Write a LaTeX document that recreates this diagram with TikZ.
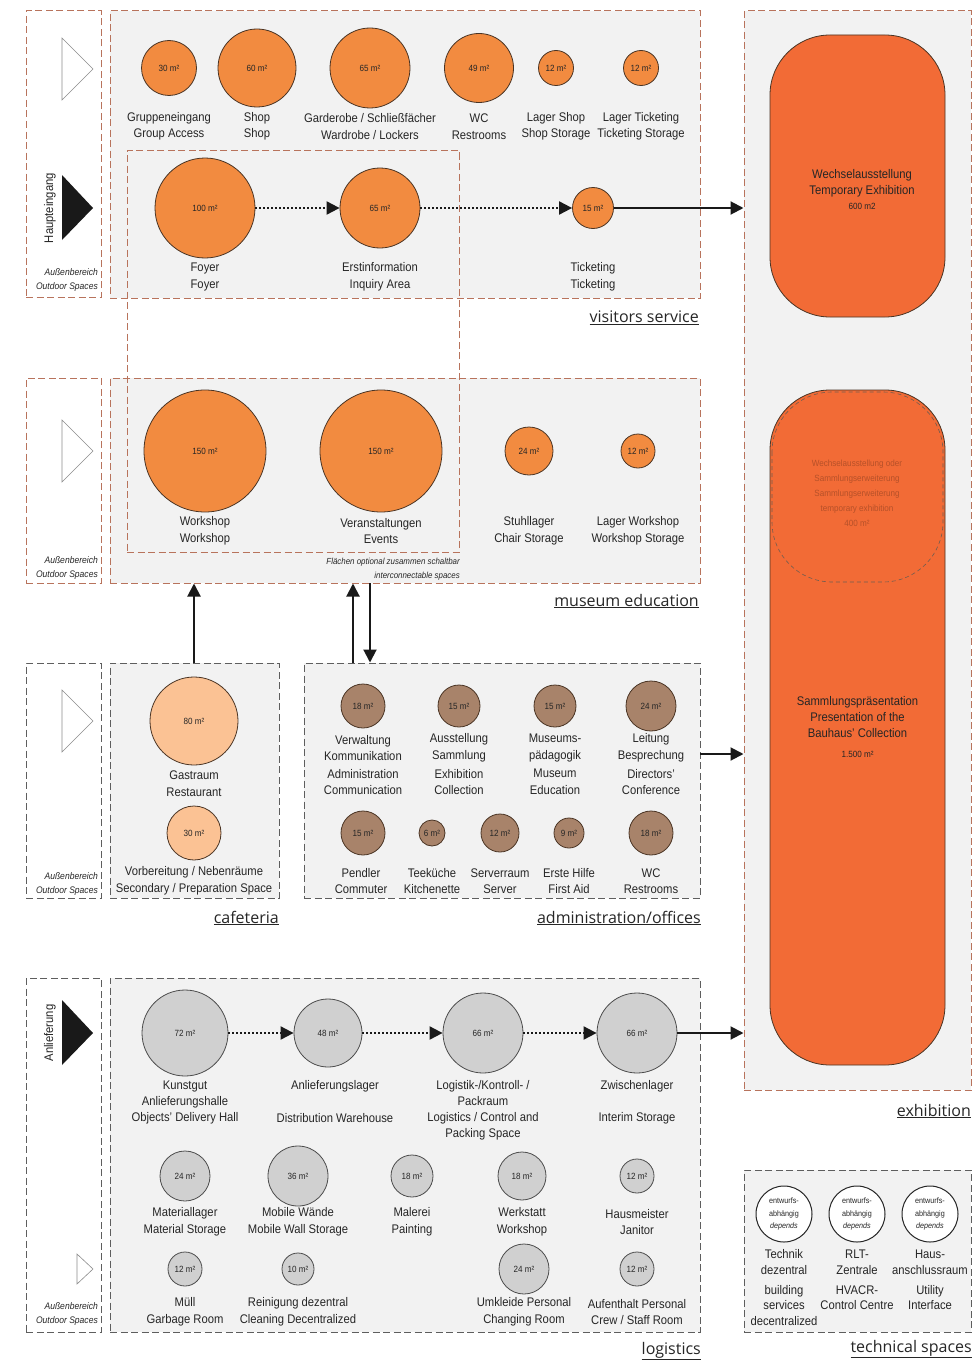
\documentclass[tikz,border=0pt]{standalone}
\usepackage{fontspec}
\setmainfont{Liberation Sans}[FakeStretch=0.9]
\newfontfamily\headfont{Open Sans}
\usetikzlibrary{arrows.meta,fit}
\definecolor{orng}{HTML}{F28B40}
\definecolor{exorng}{HTML}{F26B36}
\definecolor{lorng}{HTML}{FBC294}
\definecolor{brwn}{HTML}{A8836A}
\definecolor{lgrey}{HTML}{D0D0D0}
\definecolor{boxfill}{HTML}{F2F2F2}
\definecolor{reddash}{HTML}{B8735C}
\definecolor{greydash}{HTML}{5E5E5E}
\definecolor{circline}{HTML}{4A3424}
\definecolor{txt}{HTML}{262626}
\newcommand{\sqmx}[1]{#1 m²}
\begin{document}
\begin{tikzpicture}[x=1pt,y=-1pt,
  redbox/.style={draw=reddash, line width=1pt, dash pattern=on 7pt off 3.5pt, inner sep=0pt, fill=boxfill},
  redout/.style={redbox, fill=white},
  greybox/.style={draw=greydash, line width=1pt, dash pattern=on 7pt off 3.5pt, inner sep=0pt, fill=boxfill},
  greyout/.style={greybox, fill=white},
  circ/.style={circle, draw=circline, line width=0.8pt, inner sep=0pt, text=txt, font=\fontsize{9}{10}\selectfont},
  oc/.style={circ, fill=orng},
  bc/.style={circ, fill=brwn},
  gc/.style={circ, fill=lgrey, draw=black!70},
  lbl/.style={align=center, inner sep=0pt, text=txt, font=\fontsize{12.5}{16.5}\selectfont},
  outlbl/.style={align=right, anchor=east, inner sep=0pt, text=txt, font=\itshape\fontsize{9.5}{14}\selectfont},
  head/.style={anchor=east, inner sep=0pt, text=txt, font=\headfont\fontsize{16}{18}\selectfont},
  whitetri/.style={draw=black!45, fill=white, line width=0.6pt},
  dotarrow/.style={draw=black!90, line width=2pt, dash pattern=on 2pt off 2pt, -{Triangle[length=13pt,width=13pt]}},
  solarrow/.style={draw=black!90, line width=2pt, -{Triangle[length=13pt,width=13pt]}},
  exroom/.style={rectangle, rounded corners=60pt, draw=circline, line width=0.8pt, fill=exorng, inner sep=0pt, text=txt, align=center, font=\fontsize{12.5}{16}\selectfont}
]
\useasboundingbox (0,0) rectangle (973,1362);
\fill[white] (0,0) rectangle (973,1362);

% ---------- boxes ----------
\node[redout, fit={(26,11)(101,297)}] (vso) {};
\node[redbox, fit={(110,11)(700,298)}] (vs) {};
\node[redout, fit={(26,378)(101,583)}] (meo) {};
\node[redbox, fit={(110,378)(700,583)}] (me) {};
\node[greyout, fit={(26,663)(101,898)}] (cafo) {};
\node[greybox, fit={(110,663)(279,898)}] (caf) {};
\node[greybox, fit={(304,663)(700,898)}] (adm) {};
\node[greyout, fit={(26,978)(101,1332)}] (lgo) {};
\node[greybox, fit={(110,978)(700,1332)}] (lg) {};
\node[redbox, fit={(744,11)(971,1090)}] (ex) {};
\node[greybox, fit={(744,1170)(971,1332)}] (tec) {};
\node[draw=reddash, line width=1pt, dash pattern=on 7pt off 3.5pt, inner sep=0pt, fit={(127,150)(459,552)}] (ic) {};

% ---------- entrances ----------
\draw[whitetri] (62,38) -- (93,69) -- (62,100) -- cycle;
\fill[black!90] (62,175) -- (93,208) -- (62,240) -- cycle;
\node[lbl, rotate=90] (he) at (50,208) {Haupteingang};
\node[outlbl] (o1) at (98,280.5) {Außenbereich\\Outdoor Spaces};
\draw[whitetri] (62,420) -- (93,451) -- (62,482) -- cycle;
\node[outlbl] (o2) at (98,568) {Außenbereich\\Outdoor Spaces};
\draw[whitetri] (62,690) -- (93,721) -- (62,752) -- cycle;
\node[outlbl] (o3) at (98,884) {Außenbereich\\Outdoor Spaces};
\fill[black!90] (62,1000) -- (93,1033) -- (62,1065) -- cycle;
\node[lbl, rotate=90] (al) at (50,1033) {Anlieferung};
\draw[whitetri] (77,1254) -- (93,1269) -- (77,1284) -- cycle;
\node[outlbl] (o4) at (98,1314) {Außenbereich\\Outdoor Spaces};

% ---------- visitors service ----------
\node[oc, minimum size=55pt] (ga) at (169,68) {\sqmx{30}};
\node[oc, minimum size=78pt] (sh) at (257,68) {\sqmx{60}};
\node[oc, minimum size=80pt] (gd) at (370,68) {\sqmx{65}};
\node[oc, minimum size=69pt] (wc) at (479,68) {\sqmx{49}};
\node[oc, minimum size=35pt] (ls) at (556,68) {\sqmx{12}};
\node[oc, minimum size=35pt] (lt) at (641,68) {\sqmx{12}};
\node[oc, minimum size=100pt] (fo) at (205,208) {\sqmx{100}};
\node[oc, minimum size=80pt] (ei) at (380,208) {\sqmx{65}};
\node[oc, minimum size=41pt] (tk) at (593,208) {\sqmx{15}};
\node[lbl] (lga) at (169,126.5) {Gruppeneingang\\Group Access};
\node[lbl] (lsh) at (257,126.5) {Shop\\Shop};
\node[lbl] (lgd) at (370,126.5) {Garderobe / Schließfächer\\Wardrobe / Lockers};
\node[lbl] (lwc) at (479,126.5) {WC\\Restrooms};
\node[lbl] (lls) at (556,126.5) {Lager Shop\\Shop Storage};
\node[lbl] (llt) at (641,126.5) {Lager Ticketing\\Ticketing Storage};
\node[lbl] (lfo) at (205,277) {Foyer\\Foyer};
\node[lbl] (lei) at (380,277) {Erstinformation\\Inquiry Area};
\node[lbl] (ltk) at (593,277) {Ticketing\\Ticketing};
\node[head] (hvs) at (699,318) {\underline{visitors service}};

% ---------- museum education ----------
\node[oc, minimum size=122pt] (ws) at (205,451) {\sqmx{150}};
\node[oc, minimum size=122pt] (ev) at (381,451) {\sqmx{150}};
\node[oc, minimum size=48pt] (st) at (529,451) {\sqmx{24}};
\node[oc, minimum size=34pt] (lw) at (638,451) {\sqmx{12}};
\node[lbl] (lws) at (205,531) {Workshop\\Workshop};
\node[lbl] (lev) at (381,531) {Veranstaltungen\\Events};
\node[lbl] (lst) at (529,531) {Stuhllager\\Chair Storage};
\node[lbl] (llw) at (638,531) {Lager Workshop\\Workshop Storage};
\node[outlbl, font=\itshape\fontsize{8.8}{14}\selectfont] (fl) at (460,569) {Flächen optional zusammen schaltbar\\interconnectable spaces};
\node[head] (hme) at (699,601) {\underline{museum education}};

% ---------- cafeteria ----------
\node[circ, fill=lorng, minimum size=88pt] (gr) at (194,721) {\sqmx{80}};
\node[circ, fill=lorng, minimum size=54pt] (pr) at (194,833) {\sqmx{30}};
\node[lbl] (lgr) at (194,783.5) {Gastraum\\Restaurant};
\node[lbl] (lpr) at (194,881) {Vorbereitung / Nebenräume\\Secondary / Preparation Space};
\node[head] (hcf) at (279,918) {\underline{cafeteria}};

% ---------- administration ----------
\node[bc, minimum size=44pt] (a1) at (363,706) {\sqmx{18}};
\node[bc, minimum size=42pt] (a2) at (459,706) {\sqmx{15}};
\node[bc, minimum size=42pt] (a3) at (555,706) {\sqmx{15}};
\node[bc, minimum size=50pt] (a4) at (651,706) {\sqmx{24}};
\node[lbl] (la1) at (363,748) {Verwaltung\\Kommunikation};
\node[lbl] (la1e) at (363,782) {Administration\\Communication};
\node[lbl] (la2) at (459,748) {Ausstellung\\Sammlung};
\node[lbl] (la2e) at (459,782) {Exhibition\\Collection};
\node[lbl] (la3) at (555,748) {Museums-\\pädagogik};
\node[lbl] (la3e) at (555,782) {Museum\\Education};
\node[lbl] (la4) at (651,748) {Leitung\\Besprechung};
\node[lbl] (la4e) at (651,782) {Directors'\\Conference};
\node[bc, minimum size=44pt] (b1) at (363,833) {\sqmx{15}};
\node[bc, minimum size=26pt] (b2) at (432,833) {\sqmx{6}};
\node[bc, minimum size=38pt] (b3) at (500,833) {\sqmx{12}};
\node[bc, minimum size=30pt] (b4) at (569,833) {\sqmx{9}};
\node[bc, minimum size=44pt] (b5) at (651,833) {\sqmx{18}};
\node[lbl] (lb1) at (361,881) {Pendler\\Commuter};
\node[lbl] (lb2) at (432,881) {Teeküche\\Kitchenette};
\node[lbl] (lb3) at (500,881) {Serverraum\\Server};
\node[lbl] (lb4) at (569,881) {Erste Hilfe\\First Aid};
\node[lbl] (lb5) at (651,881) {WC\\Restrooms};
\node[head] (had) at (701,918) {\underline{administration/offices}};

% ---------- logistics ----------
\node[gc, minimum size=86pt] (k1) at (185,1033) {\sqmx{72}};
\node[gc, minimum size=68pt] (k2) at (328,1033) {\sqmx{48}};
\node[gc, minimum size=80pt] (k3) at (483,1033) {\sqmx{66}};
\node[gc, minimum size=80pt] (k4) at (637,1033) {\sqmx{66}};
\node[lbl, font=\fontsize{12.5}{16}\selectfont] (lk1) at (185,1102) {Kunstgut\\Anlieferungshalle\\Objects' Delivery Hall};
\node[lbl] (lk2) at (335,1086) {Anlieferungslager};
\node[lbl] (lk2e) at (335,1118) {Distribution Warehouse};
\node[lbl, font=\fontsize{12.5}{16}\selectfont] (lk3) at (483,1110) {Logistik-/Kontroll- /\\Packraum\\Logistics / Control and\\Packing Space};
\node[lbl] (lk4) at (637,1086) {Zwischenlager};
\node[lbl] (lk4e) at (637,1118) {Interim Storage};
\node[gc, minimum size=50pt] (m1) at (185,1176) {\sqmx{24}};
\node[gc, minimum size=60pt] (m2) at (298,1176) {\sqmx{36}};
\node[gc, minimum size=42pt] (m3) at (412,1176) {\sqmx{18}};
\node[gc, minimum size=48pt] (m4) at (522,1176) {\sqmx{18}};
\node[gc, minimum size=34pt] (m5) at (637,1176) {\sqmx{12}};
\node[lbl] (lm1) at (185,1222) {Materiallager\\Material Storage};
\node[lbl] (lm2) at (298,1222) {Mobile Wände\\Mobile Wall Storage};
\node[lbl] (lm3) at (412,1222) {Malerei\\Painting};
\node[lbl] (lm4) at (522,1222) {Werkstatt\\Workshop};
\node[lbl] (lm5) at (637,1222) {Hausmeister\\Janitor};
\node[gc, minimum size=34pt] (n1) at (185,1269) {\sqmx{12}};
\node[gc, minimum size=32pt] (n2) at (298,1269) {\sqmx{10}};
\node[gc, minimum size=50pt] (n3) at (524,1269) {\sqmx{24}};
\node[gc, minimum size=34pt] (n4) at (637,1269) {\sqmx{12}};
\node[lbl] (ln1) at (185,1312) {Müll\\Garbage Room};
\node[lbl] (ln2) at (298,1312) {Reinigung dezentral\\Cleaning Decentralized};
\node[lbl] (ln3) at (524,1312) {Umkleide Personal\\Changing Room};
\node[lbl] (ln4) at (637,1312) {Aufenthalt Personal\\Crew / Staff Room};
\node[head] (hlg) at (701,1351) {\underline{logistics}};

% ---------- exhibition ----------
\node[exroom, minimum width=175pt, minimum height=282pt] (we) at (857.5,176) {};
\node[lbl, font=\fontsize{12.5}{16}\selectfont] (lwe) at (862,190) {Wechselausstellung\\Temporary Exhibition\\[-1pt]{\fontsize{9}{10}\selectfont 600 m2}};
\node[exroom, minimum width=175pt, minimum height=675pt] (sp) at (857.5,727.5) {Sammlungspräsentation\\Presentation of the\\Bauhaus' Collection\\[4pt]{\fontsize{9}{10}\selectfont 1.500 m²}};
\draw[draw=circline!80, line width=0.6pt, dash pattern=on 4pt off 3pt, rounded corners=60pt] (772,392) rectangle (943,582);
\node[lbl, text=exorng!55!black, opacity=0.55, font=\fontsize{9}{15}\selectfont] (blur) at (857,493) {Wechselausstellung oder\\Sammlungserweiterung\\Sammlungserweiterung\\temporary exhibition\\400 m²};
\node[head] (hex) at (971,1111) {\underline{exhibition}};

% ---------- technical spaces ----------
\foreach \n/\x in {t1/784,t2/857,t3/930}{
  \node[circle, draw=black!85, line width=1pt, fill=white, minimum size=56pt, inner sep=0pt, align=center, text=txt, font=\fontsize{8}{12.5}\selectfont] (\n) at (\x,1214) {entwurfs-\\abhängig\\\textit{depends}};
}
\node[lbl, font=\fontsize{12.5}{16}\selectfont] (lt1) at (784,1262) {Technik\\dezentral};
\node[lbl, font=\fontsize{12.5}{15.5}\selectfont] (lt1e) at (784,1305.5) {building\\services\\decentralized};
\node[lbl, font=\fontsize{12.5}{16}\selectfont] (lt2) at (857,1262) {RLT-\\Zentrale};
\node[lbl, font=\fontsize{12.5}{15.5}\selectfont] (lt2e) at (857,1297.5) {HVACR-\\Control Centre};
\node[lbl, font=\fontsize{12.5}{16}\selectfont] (lt3) at (930,1262) {Haus-\\anschlussraum};
\node[lbl, font=\fontsize{12.5}{15.5}\selectfont] (lt3e) at (930,1297.5) {Utility\\Interface};
\node[head] (hte) at (972,1349) {\underline{technical spaces}};

% ---------- connectors ----------
\draw[dotarrow] (fo) -- (ei);
\draw[dotarrow] (ei) -- (tk);
\draw[solarrow] (tk) -- (tk -| ex.west);
\draw[dotarrow] (k1) -- (k2);
\draw[dotarrow] (k2) -- (k3);
\draw[dotarrow] (k3) -- (k4);
\draw[solarrow] (k4) -- (k4 -| ex.west);
\coordinate (ao) at (700,754);
\draw[solarrow] (ao) -- (ao -| ex.west);
\draw[solarrow] (caf.north -| gr) -- (me.south -| gr);
\coordinate (u1) at (353,663);
\draw[solarrow] (u1) -- (u1 |- me.south);
\coordinate (d1) at (370,583);
\draw[solarrow] (d1) -- (d1 |- adm.north);
\end{tikzpicture}
\end{document}
